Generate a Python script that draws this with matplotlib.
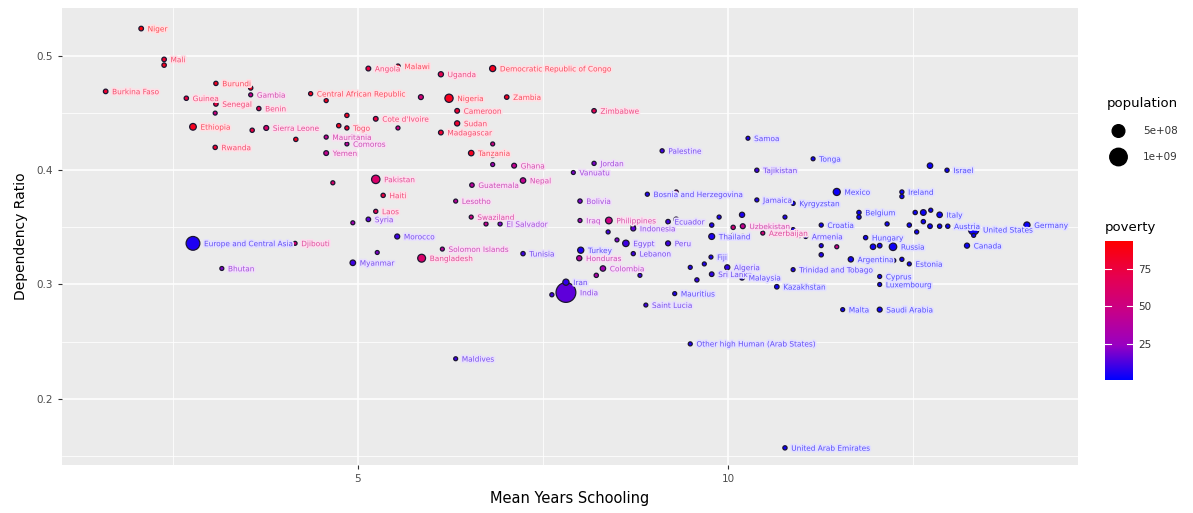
import matplotlib
matplotlib.use("Agg")
import matplotlib.pyplot as plt
import matplotlib.colors as mcolors
import matplotlib.patheffects as pe
import numpy as np

# ---- data: schooling (years), dependency ratio, population, poverty (%) ----
countries = [
    "Niger", "Mali", "", "Burkina Faso", "Guinea", "Burundi", "", "Gambia",
    "Senegal", "", "Benin", "Ethiopia", "", "Sierra Leone", "", "Rwanda",
    "Angola", "Malawi", "Uganda", "Democratic Republic of Congo",
    "Central African Republic", "", "", "Nigeria", "Zambia", "",
    "Cote d'Ivoire", "", "", "Togo", "Mauritania", "Comoros", "Yemen",
    "Cameroon", "Sudan", "Madagascar", "Tanzania", "", "", "", "Ghana",
    "Nepal", "Pakistan", "", "Guatemala", "Jordan", "Vanuatu", "Palestine",
    "Haiti", "Laos", "", "Syria", "Morocco", "", "Myanmar", "Solomon Islands",
    "Bangladesh", "Lesotho", "Swaziland", "", "El Salvador", "Tunisia",
    "Europe and Central Asia", "Djibouti", "Bhutan", "Maldives", "Bolivia",
    "Iraq", "Philippines", "", "", "Indonesia", "Ecuador", "", "", "Egypt",
    "Lebanon", "Peru", "Turkey", "Honduras", "Colombia", "", "", "India",
    "Iran", "", "Mauritius", "Saint Lucia", "Other high Human (Arab States)",
    "Zimbabwe", "Samoa", "Tonga", "Tajikistan", "", "Israel", "Mexico",
    "Ireland", "", "Jamaica", "Kyrgyzstan", "", "", "", "Uzbekistan", "", "",
    "", "", "", "", "", "Armenia", "Azerbaijan", "Thailand", "Croatia",
    "Belgium", "", "", "", "", "", "", "Austria", "", "", "", "", "Italy",
    "United States", "", "Canada", "Germany", "", "", "", "Hungary", "", "",
    "Russia", "Argentina", "", "", "Estonia", "Trinidad and Tobago", "Cyprus",
    "Luxembourg", "Kazakhstan", "Malta", "Saudi Arabia", "", "", "",
    "Sri Lanka", "Algeria", "", "Malaysia", "Fiji", "Bosnia and Herzegovina",
    "", "United Arab Emirates",
]
schooling = [
    2.07, 2.38, 2.38, 1.59, 2.68, 3.08, 3.55, 3.55,
    3.08, 3.07, 3.66, 2.77, 3.57, 3.76, 4.16, 3.07,
    5.14, 5.54, 6.12, 6.82,
    4.36, 4.57, 5.85, 6.23, 7.01, 4.85,
    5.24, 5.54, 4.74, 4.85, 4.57, 4.85, 4.57,
    6.34, 6.34, 6.12, 6.53, 6.82, 6.82, 6.82, 7.11,
    7.23, 5.24, 4.66, 6.54, 8.19, 7.91, 9.11,
    5.34, 5.24, 4.93, 5.14, 5.53, 5.26, 4.93, 6.14,
    5.86, 6.32, 6.53, 6.73, 6.92, 7.23,
    2.77, 4.15, 3.16, 6.32, 8.00,
    8.00, 8.39, 8.38, 8.72, 8.72, 9.19, 9.30, 8.50, 8.62,
    8.72, 9.19, 8.01, 7.99, 8.31, 8.22, 8.81, 7.81,
    7.81, 7.62, 9.28, 8.89, 9.49,
    8.19, 10.27, 11.15, 10.39, 12.73, 12.96, 11.47,
    12.35, 12.35, 10.39, 10.88, 10.19, 9.88, 9.78, 10.20, 10.07, 10.07,
    10.20, 10.77, 10.80, 10.88, 10.97, 11.05, 10.47, 9.78, 11.26,
    11.77, 11.77, 12.15, 12.45, 12.64, 12.73, 12.86, 12.97, 12.55, 12.53, 12.64, 12.74, 12.86,
    13.32, 13.32, 13.23, 14.04, 11.26, 11.47, 11.26, 11.86, 11.96, 12.05,
    12.23, 11.66, 12.24, 12.35, 12.45, 10.88, 12.05,
    12.05, 10.66, 11.55, 12.05, 9.49, 9.68, 9.58,
    9.78, 9.99, 10.28, 10.19, 9.77, 8.91,
    9.30, 10.77,
]
dep_ratio = [
    0.524, 0.497, 0.492, 0.469, 0.463, 0.476, 0.472, 0.466,
    0.458, 0.450, 0.454, 0.438, 0.435, 0.437, 0.427, 0.420,
    0.489, 0.491, 0.484, 0.489,
    0.467, 0.461, 0.464, 0.463, 0.464, 0.448,
    0.445, 0.437, 0.439, 0.437, 0.429, 0.423, 0.415,
    0.452, 0.441, 0.433, 0.415, 0.423, 0.413, 0.405, 0.404,
    0.391, 0.392, 0.389, 0.387, 0.406, 0.398, 0.417,
    0.378, 0.364, 0.354, 0.357, 0.342, 0.328, 0.319, 0.331,
    0.323, 0.373, 0.359, 0.353, 0.353, 0.327,
    0.336, 0.336, 0.314, 0.235, 0.373,
    0.356, 0.356, 0.346, 0.351, 0.349, 0.355, 0.357, 0.339, 0.336,
    0.327, 0.336, 0.330, 0.323, 0.314, 0.308, 0.308, 0.293,
    0.302, 0.291, 0.292, 0.282, 0.248,
    0.452, 0.428, 0.410, 0.400, 0.404, 0.400, 0.381,
    0.381, 0.377, 0.374, 0.371, 0.361, 0.359, 0.352, 0.351, 0.350, 0.343,
    0.342, 0.359, 0.350, 0.348, 0.343, 0.342, 0.345, 0.342, 0.352,
    0.363, 0.359, 0.353, 0.352, 0.355, 0.351, 0.351, 0.351, 0.346, 0.363, 0.363, 0.365, 0.361,
    0.348, 0.343, 0.334, 0.352, 0.334, 0.333, 0.326, 0.341, 0.333, 0.334,
    0.333, 0.322, 0.321, 0.322, 0.318, 0.313, 0.307,
    0.300, 0.298, 0.278, 0.278, 0.315, 0.318, 0.304,
    0.309, 0.315, 0.313, 0.306, 0.324, 0.379,
    0.381, 0.157,
]
population = [
    2.0e7, 1.7e7, 1.4e7, 1.8e7, 1.2e7, 1.0e7, 1.0e7, 2.0e6,
    1.5e7, 1.0e6, 1.0e7, 1.0e8, 1.0e7, 3.0e7, 1.0e7, 1.1e7,
    2.5e7, 1.7e7, 3.9e7, 7.7e7,
    5.0e6, 5.0e6, 3.0e7, 1.8e8, 1.6e7, 1.0e7,
    2.3e7, 3.0e6, 1.2e7, 7.0e6, 4.0e6, 8.0e5, 2.6e7,
    2.3e7, 4.0e7, 2.4e7, 5.0e7, 1.0e6, 1.0e7, 2.0e6, 2.7e7,
    5.0e7, 1.9e8, 3.0e6, 1.6e7, 7.0e6, 3.0e5, 4.7e6,
    1.0e7, 6.8e6, 1.0e6, 1.8e7, 3.4e7, 1.0e6, 5.3e7, 5.8e5,
    1.6e8, 2.0e6, 1.3e6, 4.0e6, 6.0e6, 1.1e7,
    6.0e8, 9.0e5, 7.7e5, 4.0e5, 1.1e7,
    3.0e6, 1.0e8, 3.0e6, 1.0e7, 3.0e7, 1.6e7, 2.0e7, 2.0e6, 9.0e7,
    6.0e6, 3.1e7, 7.8e7, 4.0e7, 4.8e7, 1.0e7, 1.0e6, 1.3e9,
    8.0e7, 5.0e6, 1.3e6, 1.8e5, 3.0e6,
    1.6e7, 2.0e5, 1.0e5, 8.5e6, 5.0e7, 8.0e6, 1.2e8,
    4.6e6, 5.0e6, 2.8e6, 6.0e6, 4.0e7, 4.0e6, 1.0e7, 3.0e7, 1.0e7, 1.0e7,
    1.0e7, 1.0e6, 5.0e6, 5.0e6, 1.0e7, 3.0e6, 2.0e6, 6.8e7, 4.0e6,
    1.1e7, 1.0e7, 5.0e6, 1.0e7, 1.0e7, 2.0e7, 1.0e7, 9.0e6, 5.0e6, 1.0e7, 6.0e7, 4.0e6, 5.0e7,
    3.2e8, 2.0e6, 3.6e7, 8.1e7, 1.0e6, 1.0e6, 1.0e7, 1.0e7, 5.0e7, 2.0e7,
    1.4e8, 4.3e7, 4.0e6, 5.0e6, 1.3e6, 1.4e6, 1.2e6,
    5.7e5, 1.7e7, 6.0e5, 3.0e7, 2.0e6, 2.0e6, 8.0e6,
    2.0e7, 3.9e7, 2.0e7, 3.0e7, 1.0e6, 3.8e6,
    1.0e6, 9.0e6,
]
poverty = [
    90, 80, 85, 80, 75, 85, 85, 45,
    75, 50, 70, 85, 75, 60, 85, 80,
    75, 85, 70, 85,
    85, 85, 55, 85, 85, 85,
    75, 50, 85, 80, 45, 40, 45,
    80, 80, 80, 85, 50, 45, 30, 45,
    45, 60, 60, 40, 20, 20, 10,
    75, 70, 30, 15, 10, 20, 10, 40,
    60, 40, 50, 45, 20, 10,
    5, 55, 20, 10, 20,
    30, 50, 10, 15, 15, 10, 15, 20, 10,
    10, 10, 5, 40, 30, 35, 10, 15,
    8, 10, 5, 10, 5,
    70, 5, 3, 10, 2, 2, 3,
    2, 2, 5, 3, 5, 5, 5, 45, 55, 60,
    40, 5, 5, 5, 5, 5, 55, 5, 3,
    2, 2, 3, 2, 2, 2, 2, 2, 3, 2, 2, 2, 2,
    2, 2, 2, 2, 5, 50, 5, 3, 3, 3,
    3, 3, 3, 3, 3, 5, 2,
    2, 3, 2, 2, 5, 5, 8,
    8, 8, 5, 5, 5, 5,
    50, 3,
]

pop_breaks = [5e8, 1e9]
pop_labels = ["5e+08", "1e+09"]
pov_ticks = [25, 50, 75]

# ---- colour scale: blue -> red as in scale_colour_gradient ----
cmap = mcolors.LinearSegmentedColormap.from_list(
    "pov", ["#0000FF", "#9900C2", "#C80088", "#E7004F", "#FF0000"])
norm = mcolors.Normalize(vmin=0.5, vmax=94)


def pop_size(p):
    return 8 + 150 * np.asarray(p) / 1e9


def lighten(c, amt):
    c = np.array(mcolors.to_rgb(c))
    return tuple(c + (1 - c) * amt)


fig = plt.figure(figsize=(11.93, 5.13), dpi=100)
ax = fig.add_axes([62 / 1193, 1 - 465 / 513, (1078 - 62) / 1193, (465 - 8) / 513])
ax.set_facecolor("#EBEBEB")

x = np.array(schooling)
y = np.array(dep_ratio)
cols = cmap(norm(np.array(poverty)))

ax.scatter(x, y, s=pop_size(population), c=cols, edgecolors="#1c1530",
           linewidths=0.9, zorder=3)

for name, xi, yi, ci, pi in zip(countries, x, y, cols, population):
    if not name:
        continue
    off = 3 + np.sqrt(pop_size(pi)) / 2
    ax.annotate(name, (xi, yi), xytext=(off, -0.6), textcoords="offset points",
                fontsize=5.3, color=lighten(ci, 0.3), va="center", ha="left",
                zorder=4,
                path_effects=[pe.withStroke(linewidth=2.4, foreground=lighten(ci, 0.88))])

ax.set_xlim(1.0, 14.73)
ax.set_ylim(0.142, 0.542)
ax.set_xticks([5, 10])
ax.set_xticks([2.5, 7.5, 12.5], minor=True)
ax.set_yticks([0.2, 0.3, 0.4, 0.5])
ax.set_yticks([0.15, 0.25, 0.35, 0.45], minor=True)
ax.grid(which="major", color="white", linewidth=1.1)
ax.grid(which="minor", color="white", linewidth=0.55)
ax.set_axisbelow(True)
for sp in ax.spines.values():
    sp.set_visible(False)
ax.tick_params(which="major", length=3, color="#333333", labelcolor="#4D4D4D",
               labelsize=7.5)
ax.tick_params(which="minor", length=0)
ax.set_xlabel("Mean Years Schooling", fontsize=10.5, labelpad=5)
ax.set_ylabel("Dependency Ratio", fontsize=10, labelpad=6)

# ---- size legend ----
fig.text(1107 / 1193, 1 - 104 / 513, "population", fontsize=9.5, va="center")
lg = fig.add_axes([1105 / 1193, 1 - 170 / 513, 30 / 1193, 52 / 513])
lg.set_xlim(0, 1)
lg.set_ylim(0, 1)
lg.axis("off")
lg.scatter([0.45, 0.45], [0.75, 0.25], s=pop_size(pop_breaks), color="black")
for yy, lab in zip([0.75, 0.25], pop_labels):
    fig.text(1143 / 1193, 1 - (170 - 52 * yy) / 513, lab, fontsize=7.5,
             color="#333333", va="center")

# ---- colour legend ----
fig.text(1105 / 1193, 1 - 228 / 513, "poverty", fontsize=9.5, va="center")
cax = fig.add_axes([1105 / 1193, 1 - 380 / 513, 28 / 1193, 139 / 513])
grad = np.linspace(norm.vmin, norm.vmax, 256).reshape(-1, 1)
cax.imshow(grad, aspect="auto", cmap=cmap, norm=norm, origin="lower",
           extent=[0, 1, norm.vmin, norm.vmax])
cax.set_xticks([])
cax.set_yticks(pov_ticks)
cax.yaxis.tick_right()
cax.tick_params(axis="y", length=0, labelsize=7.5, labelcolor="#333333", pad=4)
for t in pov_ticks:
    cax.plot([0, 0.2], [t, t], color="white", lw=0.8)
    cax.plot([0.8, 1], [t, t], color="white", lw=0.8)
for sp in cax.spines.values():
    sp.set_visible(False)

fig.savefig("out.png", dpi=100, facecolor="white")
